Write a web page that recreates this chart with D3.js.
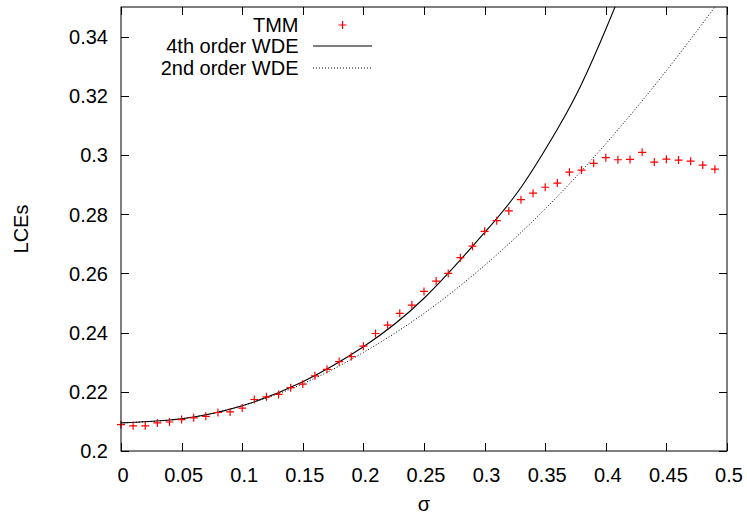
<!DOCTYPE html>
<html>
<head>
<meta charset="utf-8">
<script src="https://cdn.jsdelivr.net/npm/d3@7"></script>
<style>
  html, body { margin: 0; padding: 0; background: #fff; }
  svg { display: block; }
  text { font-family: "Liberation Sans", Arial, Helvetica, sans-serif; fill: #000; }
</style>
</head>
<body>
<svg id="chart" width="747" height="516"></svg>
<script>
// TMM Lyapunov characteristic exponents versus disorder strength sigma
const tmmSigma = [0.00, 0.01, 0.02, 0.03, 0.04, 0.05, 0.06, 0.07, 0.08, 0.09,
                  0.10, 0.11, 0.12, 0.13, 0.14, 0.15, 0.16, 0.17, 0.18, 0.19,
                  0.20, 0.21, 0.22, 0.23, 0.24, 0.25, 0.26, 0.27, 0.28, 0.29,
                  0.30, 0.31, 0.32, 0.33, 0.34, 0.35, 0.36, 0.37, 0.38, 0.39,
                  0.40, 0.41, 0.42, 0.43, 0.44, 0.45, 0.46, 0.47, 0.48, 0.49];
const tmmLCE = [0.2089, 0.2085, 0.2085, 0.2095, 0.2098, 0.2106, 0.2112, 0.2117, 0.2130, 0.2132,
                0.2145, 0.2174, 0.2183, 0.2191, 0.2214, 0.2226, 0.2254, 0.2276, 0.2302, 0.2319,
                0.2354, 0.2397, 0.2425, 0.2465, 0.2493, 0.2539, 0.2574, 0.2600, 0.2653, 0.2692,
                0.2742, 0.2778, 0.2811, 0.2849, 0.2871, 0.2891, 0.2905, 0.2942, 0.2949, 0.2972,
                0.2991, 0.2984, 0.2985, 0.3009, 0.2976, 0.2986, 0.2983, 0.2979, 0.2966, 0.2952];

// 4th order weak disorder expansion
const wde4Sigma = [0.00, 0.05, 0.10, 0.15, 0.20, 0.25, 0.30, 0.33, 0.36, 0.38, 0.40, 0.42];
const wde4LCE   = [0.2095, 0.2109, 0.2153, 0.2234, 0.2352, 0.2516, 0.2738, 0.2890, 0.3087, 0.3240, 0.3425, 0.3625];

// 2nd order weak disorder expansion
const wde2Sigma = [0.00, 0.05, 0.10, 0.15, 0.20, 0.25, 0.30, 0.35, 0.40, 0.45, 0.50];
const wde2LCE   = [0.2095, 0.2109, 0.2153, 0.2227, 0.2333, 0.2465, 0.2627, 0.2818, 0.3038, 0.3285, 0.3555];

const xTicks = [0, 0.05, 0.1, 0.15, 0.2, 0.25, 0.3, 0.35, 0.4, 0.45, 0.5];
const yTicks = [0.2, 0.22, 0.24, 0.26, 0.28, 0.3, 0.32, 0.34];
const legendLabels = ["TMM", "4th order WDE", "2nd order WDE"];

const svg = d3.select("#chart");
const plotLeft = 121, plotRight = 727, plotTop = 7, plotBottom = 451;
const x = d3.scaleLinear().domain([0, 0.5]).range([plotLeft, plotRight]);
const y = d3.scaleLinear().domain([0.2, 0.35]).range([plotBottom, plotTop]);
const tickLen = 8;
const fontSize = 20;

svg.append("defs").append("clipPath").attr("id", "plotClip")
  .append("rect").attr("x", plotLeft).attr("y", plotTop)
  .attr("width", plotRight - plotLeft).attr("height", plotBottom - plotTop);

// curves
const line = d3.line().x(d => x(d[0])).y(d => y(d[1])).curve(d3.curveNatural);
const g = svg.append("g").attr("clip-path", "url(#plotClip)");
g.append("path")
  .datum(wde2Sigma.map((s, i) => [s, wde2LCE[i]]))
  .attr("d", line).attr("fill", "none").attr("stroke", "#000")
  .attr("stroke-width", 1).attr("stroke-dasharray", "1,2");
g.append("path")
  .datum(wde4Sigma.map((s, i) => [s, wde4LCE[i]]))
  .attr("d", line).attr("fill", "none").attr("stroke", "#000")
  .attr("stroke-width", 1.1);

// plus markers
const plus = (sel, cx, cy) => {
  sel.append("path")
    .attr("d", `M${cx - 4},${cy}H${cx + 4}M${cx},${cy - 4}V${cy + 4}`)
    .attr("stroke", "#ff0000").attr("stroke-width", 1.2).attr("fill", "none");
};
const pts = svg.append("g");
tmmSigma.forEach((s, i) => plus(pts, x(s), y(tmmLCE[i])));

// frame and mirrored inward ticks
const axisG = svg.append("g").attr("stroke", "#000").attr("stroke-width", 1);
axisG.append("rect").attr("x", plotLeft).attr("y", plotTop)
  .attr("width", plotRight - plotLeft).attr("height", plotBottom - plotTop).attr("fill", "none");
xTicks.forEach(t => {
  const px = Math.round(x(t)) + 0.5;
  axisG.append("line").attr("x1", px).attr("x2", px).attr("y1", plotBottom).attr("y2", plotBottom - tickLen);
  axisG.append("line").attr("x1", px).attr("x2", px).attr("y1", plotTop).attr("y2", plotTop + tickLen);
});
yTicks.forEach(t => {
  const py = Math.round(y(t)) + 0.5;
  axisG.append("line").attr("x1", plotLeft).attr("x2", plotLeft + tickLen).attr("y1", py).attr("y2", py);
  axisG.append("line").attr("x1", plotRight).attr("x2", plotRight - tickLen).attr("y1", py).attr("y2", py);
});

// tick labels
svg.append("g").selectAll("text").data(xTicks).join("text")
  .attr("x", d => x(d) + 2).attr("y", 482)
  .attr("text-anchor", "middle").attr("font-size", fontSize)
  .text(d => String(d));
svg.append("g").selectAll("text").data(yTicks).join("text")
  .attr("x", 108).attr("y", d => y(d) + 7.4)
  .attr("text-anchor", "end").attr("font-size", fontSize)
  .text(d => String(+d.toFixed(2)));

// axis titles
svg.append("text").attr("x", (plotLeft + plotRight) / 2).attr("y", 511)
  .attr("text-anchor", "middle").attr("font-size", fontSize).text("σ");
svg.append("text").attr("transform", `translate(28,${(plotTop + plotBottom) / 2}) rotate(-90)`)
  .attr("text-anchor", "middle").attr("font-size", fontSize).text("LCEs");

// legend
const legend = svg.append("g");
const legY = [25, 46, 68];
legendLabels.forEach((lab, i) => {
  legend.append("text").attr("x", 298.5).attr("y", legY[i] + 7)
    .attr("text-anchor", "end").attr("font-size", fontSize).text(lab);
});
plus(legend, 342.5, legY[0]);
legend.append("line").attr("x1", 313).attr("x2", 372).attr("y1", legY[1]).attr("y2", legY[1])
  .attr("stroke", "#000").attr("stroke-width", 1.1);
legend.append("line").attr("x1", 313).attr("x2", 372).attr("y1", legY[2]).attr("y2", legY[2])
  .attr("stroke", "#000").attr("stroke-width", 1).attr("stroke-dasharray", "1,2");
</script>
</body>
</html>
